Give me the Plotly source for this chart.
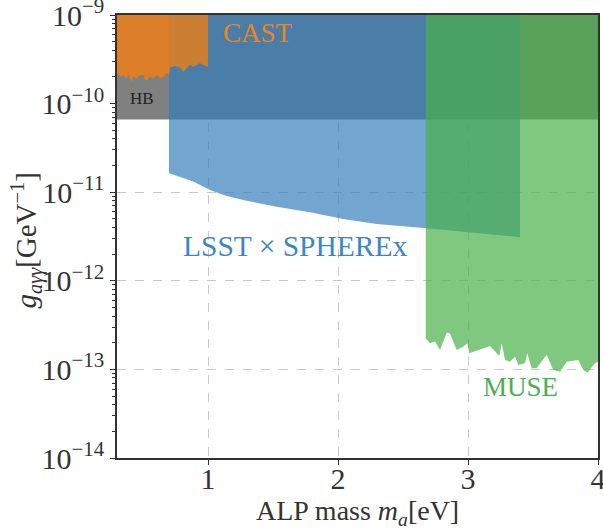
import plotly.graph_objects as go

# ---------------- data ----------------
x_min, x_max = 0.3, 4.0
g_top = 1e-9

# Horizontal-branch (HB) star bound
hb_g = 6.6e-11

# CAST lower boundary (jagged)
cast_m = [0.30, 0.310, 0.323, 0.349, 0.374, 0.387, 0.413, 0.426, 0.451, 0.477, 0.503, 0.515,
          0.528, 0.554, 0.579, 0.605, 0.631, 0.656, 0.682, 0.702, 0.708, 0.746, 0.785, 0.810,
          0.836, 0.862, 0.887, 0.913, 0.938, 0.964, 0.990, 1.0]
cast_g = [2.15e-10, 2.20e-10, 2.01e-10, 2.10e-10, 1.93e-10, 2.10e-10, 1.77e-10, 2.01e-10,
          1.93e-10, 2.10e-10, 2.10e-10, 1.85e-10, 1.82e-10, 2.01e-10, 1.93e-10, 2.10e-10,
          1.93e-10, 2.01e-10, 2.20e-10, 2.10e-10, 2.56e-10, 2.65e-10, 2.56e-10, 2.29e-10,
          2.50e-10, 2.73e-10, 2.61e-10, 2.73e-10, 2.85e-10, 2.73e-10, 2.61e-10, 2.61e-10]

# LSST x SPHEREx forecast lower boundary
lsst_m = [0.70, 0.708, 0.887, 1.015, 1.144, 1.298, 1.528, 1.785, 2.041, 2.298, 2.554, 2.682, 3.40]
lsst_g = [1.65e-11, 1.63e-11, 1.32e-11, 1.06e-11, 9.06e-12, 8.02e-12, 6.86e-12, 5.93e-12,
          4.99e-12, 4.38e-12, 4.08e-12, 3.92e-12, 3.10e-12]

# MUSE lower boundary (jagged)
muse_m = [2.675, 2.708, 2.746, 2.785, 2.836, 2.862, 2.913, 2.964, 2.995, 3.010, 3.092, 3.169,
          3.241, 3.259, 3.285, 3.323, 3.362, 3.387, 3.438, 3.456, 3.490, 3.528, 3.605, 3.656,
          3.708, 3.759, 3.848, 3.887, 3.918, 3.977, 4.0]
muse_g = [2.24e-13, 1.97e-13, 2.06e-13, 1.66e-13, 2.59e-13, 2.55e-13, 1.66e-13, 1.80e-13,
          1.97e-13, 1.52e-13, 1.66e-13, 1.84e-13, 1.42e-13, 1.97e-13, 1.28e-13, 1.22e-13,
          1.39e-13, 1.12e-13, 1.17e-13, 1.52e-13, 1.03e-13, 1.03e-13, 1.46e-13, 9.84e-14,
          9.42e-14, 1.22e-13, 1.28e-13, 9.84e-14, 9.18e-14, 1.17e-13, 1.22e-13]

x_tickvals = [1, 2, 3, 4]
x_ticktext = ["1", "2", "3", "4"]
y_exponents = [-14, -13, -12, -11, -10, -9]

# ---------------- figure ----------------
FONT = "Liberation Serif"
TEXT = "#333333"
fig = go.Figure()


def region(xs_bottom, ys_bottom, color, name):
    xs = [xs_bottom[0]] + list(xs_bottom) + [xs_bottom[-1]]
    ys = [g_top] + list(ys_bottom) + [g_top]
    fig.add_trace(go.Scatter(x=xs, y=ys, mode="lines", fill="toself", fillcolor=color,
                             line=dict(width=0), hoverinfo="skip", name=name, showlegend=False))


region([x_min, x_max], [hb_g, hb_g], "rgb(128,128,128)", "HB")
region(lsst_m, lsst_g, "rgba(49,124,185,0.685)", "LSST x SPHEREx")
region(cast_m, cast_g, "rgba(255,126,5,0.72)", "CAST")
region(muse_m, muse_g, "rgba(74,176,74,0.70)", "MUSE")

minor_vals = [k * 10.0 ** e for e in range(-14, -9) for k in range(2, 10)]

fig.update_layout(
    width=603, height=529,
    margin=dict(l=117, r=5, t=15, b=71, autoexpand=False),
    plot_bgcolor="white", paper_bgcolor="white",
    font=dict(family=FONT, size=28, color=TEXT),
    xaxis=dict(range=[x_min, x_max], tickvals=x_tickvals, ticktext=x_ticktext,
               automargin=False,
               ticks="outside", ticklen=5, tickwidth=1.2, tickcolor=TEXT,
               ticklabeloverflow="allow", ticklabelstandoff=-12,
               showline=True, linecolor=TEXT, linewidth=1.5, mirror=True,
               showgrid=True, gridcolor="#c8c8c8", griddash="dash", gridwidth=1,
               zeroline=False, tickfont=dict(size=30)),
    yaxis=dict(type="log", range=[-14, -9], automargin=False,
               tickvals=[10.0 ** e for e in y_exponents],
               ticktext=["10<sup>\u2212%d</sup>" % (-e) for e in y_exponents],
               ticks="outside", ticklen=5, tickwidth=1.2, tickcolor=TEXT,
               ticklabeloverflow="allow",
               minor=dict(tickvals=minor_vals, ticks="outside", ticklen=3,
                          tickcolor=TEXT, showgrid=False),
               showline=True, linecolor=TEXT, linewidth=1.5, mirror=True,
               showgrid=True, gridcolor="#c8c8c8", griddash="dash", gridwidth=1,
               zeroline=False, tickfont=dict(size=30)),
)

# axis titles placed precisely (paper coordinates relative to plot area)
fig.add_annotation(text="<i>g</i><sub><i>a\u03b3\u03b3</i></sub>[GeV<sup>\u22121</sup>]",
                   xref="paper", yref="paper", x=-0.188, y=0.49, textangle=-90,
                   showarrow=False, xanchor="center", yanchor="middle",
                   font=dict(family=FONT, size=29, color=TEXT))
fig.add_annotation(text="ALP mass <i>m</i><sub><i>a</i></sub>[eV]",
                   xref="paper", yref="paper", x=0.5, y=-0.124,
                   showarrow=False, xanchor="center", yanchor="middle",
                   font=dict(family=FONT, size=28, color=TEXT))

annotations = [
    dict(text="CAST", x=1.385, y=-9.203, color="#ee8420", size=27),
    dict(text="HB", x=0.496, y=-9.937, color="#222222", size=17),
    dict(text="LSST \u00d7 SPHEREx", x=1.673, y=-11.607, color="#3d86c3", size=29.5),
    dict(text="MUSE", x=3.40, y=-13.204, color="#4caf50", size=27),
]
for a in annotations:
    fig.add_annotation(text=a["text"], x=a["x"], y=a["y"], xref="x", yref="y",
                       showarrow=False, font=dict(family=FONT, size=a["size"], color=a["color"]),
                       xanchor="center", yanchor="middle")

fig.write_html("out.html")
